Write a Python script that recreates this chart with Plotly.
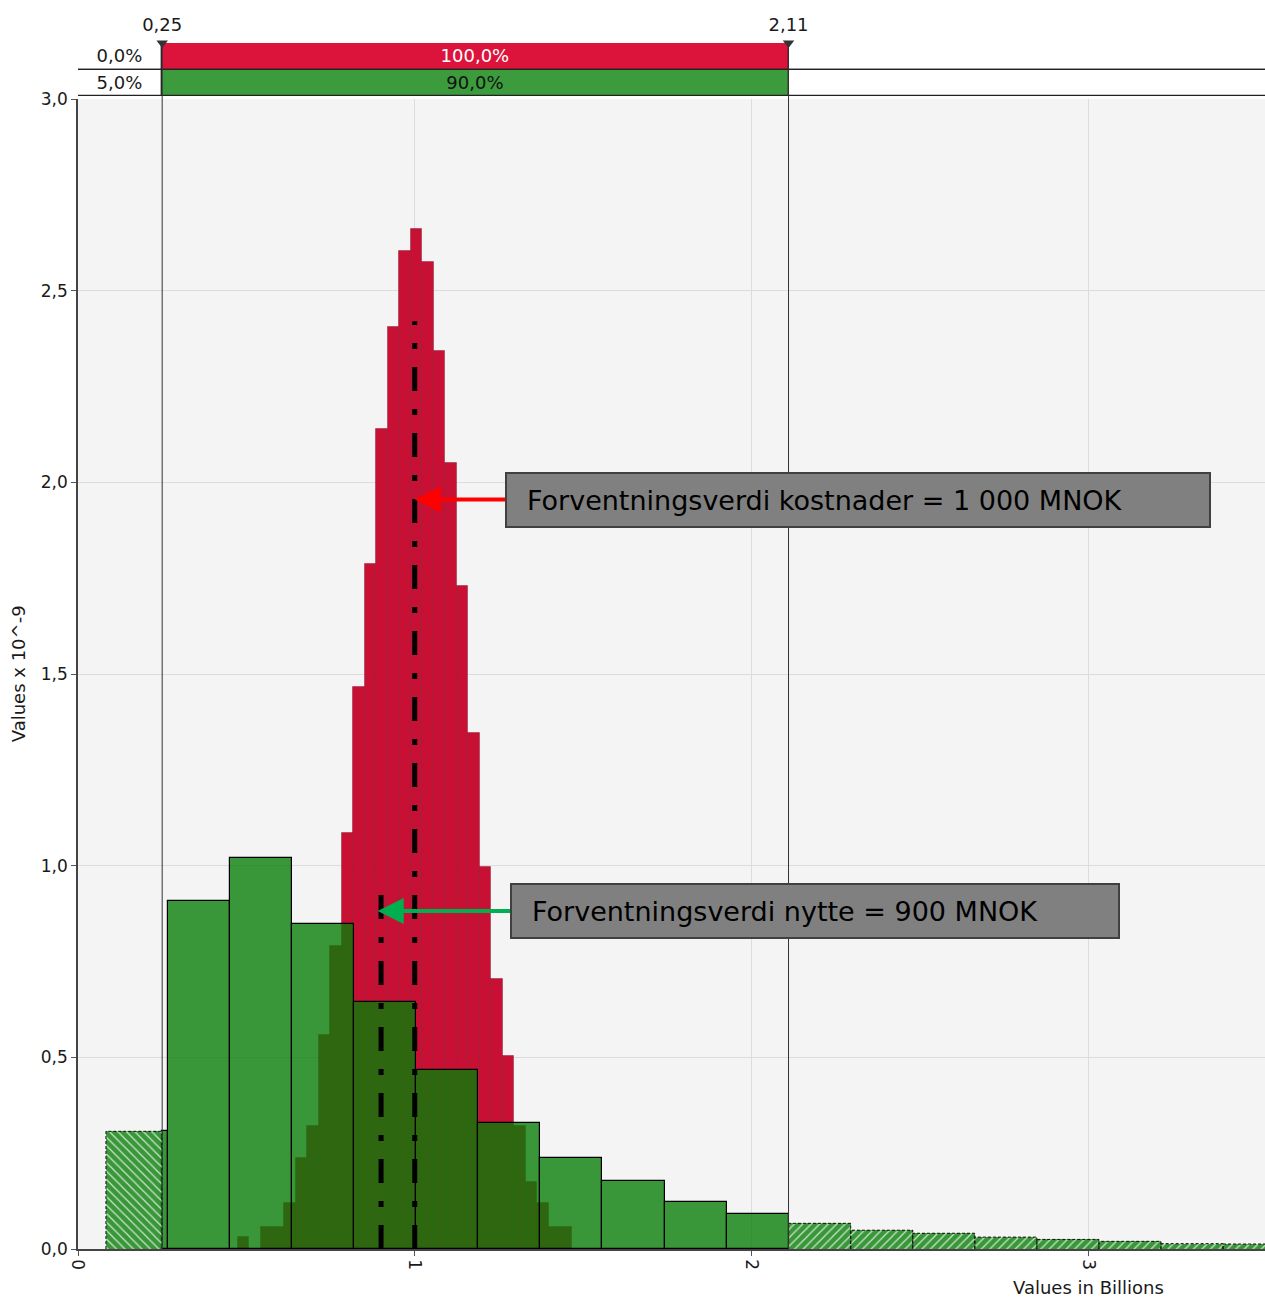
import numpy as np
import plotly.graph_objects as go

# ---------------- data ----------------
red_bin_start = 0.475
red_bin_width = 0.0342
red_density = [0.031, 0.0, 0.058, 0.058, 0.12, 0.237, 0.32, 0.558, 0.79, 1.085,
               1.466, 1.787, 2.14, 2.405, 2.604, 2.662, 2.576, 2.343, 2.051, 1.730,
               1.346, 0.997, 0.704, 0.504, 0.32, 0.175, 0.12, 0.058, 0.058]

green_bin_start = 0.083
green_bin_width = 0.1843
green_density = [0.307, 0.907, 1.019, 0.848, 0.644, 0.467, 0.330, 0.238, 0.177,
                 0.122, 0.091, 0.067, 0.049, 0.041, 0.031, 0.025, 0.020, 0.014, 0.013]

delimiters = [0.25, 2.11]
red_band_pct = [0.0, 100.0, 0.0]
green_band_pct = [5.0, 90.0, 5.0]

red_mean = 1.0
red_mean_line_top = 2.42
green_mean = 0.9
green_mean_line_top = 0.935

cost_label = "Forventningsverdi kostnader = 1 000 MNOK"
benefit_label = "Forventningsverdi nytte = 900 MNOK"
x_title = "Values in Billions"
y_title = "Values x 10^-9"
x_ticks = [0, 1, 2, 3]
y_ticks = [0.0, 0.5, 1.0, 1.5, 2.0, 2.5, 3.0]

# ---------------- styling ----------------
X_MAX = 3.525
FONT = "DejaVu Sans"
RED = "rgb(200,16,52)"
GREEN = "rgba(6,125,6,0.79)"
BAND_RED = "#DC143C"
BAND_GREEN = "#3C9B3C"
TXT = "#1a1a1a"
PAD = "\u00a0\u2009"

fig = go.Figure()

# red histogram
red_h = np.array(red_density)
red_left = red_bin_start + red_bin_width * np.arange(len(red_h))
fig.add_trace(go.Bar(
    x=red_left + red_bin_width / 2, y=red_h, width=red_bin_width,
    marker=dict(color=RED, line=dict(color="rgba(110,0,20,0.35)", width=1)),
    hoverinfo="skip", showlegend=False))

# green histogram, split at delimiters into solid / hatched parts
g_h = np.array(green_density)
g_left = green_bin_start + green_bin_width * np.arange(len(g_h))
g_right = g_left + green_bin_width
lo, hi = delimiters
solid = dict(x=[], w=[], y=[])
hatch_l = dict(x=[], w=[], y=[])
hatch_r = dict(x=[], w=[], y=[])
for L, R, h in zip(g_left, g_right, g_h):
    for a, b, tgt in ((L, min(R, lo), hatch_l), (max(L, lo), min(R, hi), solid),
                      (max(L, hi), R, hatch_r)):
        if b - a > 1e-3:
            tgt["x"].append((a + b) / 2)
            tgt["w"].append(b - a)
            tgt["y"].append(h)

fig.add_trace(go.Bar(
    x=solid["x"], y=solid["y"], width=solid["w"],
    marker=dict(color=GREEN, line=dict(color="black", width=1.2)),
    hoverinfo="skip", showlegend=False))

for part, shape in ((hatch_l, "\\"), (hatch_r, "/")):
    fig.add_trace(go.Bar(
        x=part["x"], y=part["y"], width=part["w"],
        marker=dict(color=GREEN, line=dict(width=0),
                    pattern=dict(shape=shape, fgcolor="white", fgopacity=0.75,
                                 size=6, solidity=0.2, fillmode="overlay")),
        hoverinfo="skip", showlegend=False))
    ox, oy = [], []
    for cx, w, h in zip(part["x"], part["w"], part["y"]):
        ox += [cx - w / 2, cx - w / 2, cx + w / 2, cx + w / 2, None]
        oy += [0, h, h, 0, None]
    fig.add_trace(go.Scatter(x=ox, y=oy, mode="lines",
                             line=dict(color="#111", width=1, dash="3px,2px"),
                             hoverinfo="skip", showlegend=False))

# mean lines
for m, top in ((red_mean, red_mean_line_top), (green_mean, green_mean_line_top)):
    fig.add_trace(go.Scatter(x=[m, m], y=[0, top], mode="lines",
                             line=dict(color="black", width=5, dash="24px,18px,6px,18px"),
                             hoverinfo="skip", showlegend=False))

# top delimiter band (yaxis2)
def pct(v):
    return f"{v:.1f}%".replace(".", ",")

band_base = [0, lo, hi]
band_len = [lo, hi - lo, 6.0 - hi]
for yrow, vals, col, tcol in ((1.5, red_band_pct, BAND_RED, "white"),
                              (0.5, green_band_pct, BAND_GREEN, "#111")):
    fig.add_trace(go.Bar(
        x=band_len, base=band_base, y=[yrow] * 3, orientation="h", width=1,
        xaxis="x", yaxis="y2",
        marker=dict(color=["white", col, "white"], line=dict(color="#222", width=1.2)),
        text=[pct(v) for v in vals], textposition=["inside", "inside", "none"],
        insidetextanchor="middle", constraintext="none", textangle=0,
        textfont=dict(family=FONT, size=18, color=[TXT, tcol, TXT]),
        hoverinfo="skip", showlegend=False))

fig.add_trace(go.Scatter(
    x=delimiters, y=[2, 2], xaxis="x", yaxis="y2", mode="markers+text",
    marker=dict(symbol="triangle-down", size=10, color="#333"),
    text=[f"{d:.2f}".replace(".", ",") for d in delimiters],
    textposition="top center", textfont=dict(family=FONT, size=18, color=TXT),
    cliponaxis=False, hoverinfo="skip", showlegend=False))

# delimiter vertical lines
for d in delimiters:
    fig.add_shape(type="line", xref="x", yref="paper", x0=d, x1=d, y0=0, y1=1,
                  line=dict(color="#333", width=1), layer="above")

# annotations with arrows
fig.add_annotation(
    x=red_mean, y=1.955, ax=1.268, ay=1.955, xref="x", yref="y", axref="x", ayref="y",
    xanchor="left", yanchor="middle", text=PAD + cost_label, align="left",
    width=690, height=40, borderpad=6, bgcolor="#808080", bordercolor="#404040",
    borderwidth=2, font=dict(family=FONT, size=27, color="black"),
    showarrow=True, arrowhead=2, arrowsize=1.3, arrowwidth=4, arrowcolor="#FF0000",
    standoff=0)
fig.add_annotation(
    x=green_mean - 0.01, y=0.882, ax=1.283, ay=0.882, xref="x", yref="y", axref="x",
    ayref="y", xanchor="left", yanchor="middle", text=PAD + benefit_label,
    align="left", width=594, height=40, borderpad=6, bgcolor="#808080",
    bordercolor="#404040", borderwidth=2, font=dict(family=FONT, size=27, color="black"),
    showarrow=True, arrowhead=2, arrowsize=1.3, arrowwidth=4, arrowcolor="#00B050",
    standoff=0)

# axis titles
fig.add_annotation(text=y_title, xref="paper", yref="paper", x=0, y=0.477,
                   xshift=-72, textangle=-90, showarrow=False,
                   font=dict(family=FONT, size=18, color=TXT))
fig.add_annotation(text=x_title, xref="x", yref="paper", x=3.0, y=0, yshift=-51,
                   showarrow=False, font=dict(family=FONT, size=18, color=TXT))

main_top = (1249 - 99) / 1206
band_bot = (1249 - 96) / 1206

fig.update_layout(
    width=1265, height=1299,
    margin=dict(l=78, r=0, t=43, b=50),
    paper_bgcolor="white", plot_bgcolor="#F4F4F4",
    barmode="overlay", bargap=0, separators=", ",
    font=dict(family=FONT, size=17, color=TXT),
    xaxis=dict(range=[0, X_MAX], tickvals=x_ticks, tickangle=90, ticks="outside",
               ticklen=5, tickcolor="#555", showgrid=True, gridcolor="#DCDCDC",
               zeroline=False, showline=True, linecolor="#444", linewidth=1.5,
               tickfont=dict(family=FONT, size=17, color=TXT)),
    yaxis=dict(domain=[0, main_top], range=[0, 3.0], tickvals=y_ticks,
               tickformat=".1f", ticks="outside", ticklen=5, tickcolor="#555",
               showgrid=True, gridcolor="#DCDCDC", zeroline=False, showline=True,
               linecolor="#444", linewidth=1.5,
               tickfont=dict(family=FONT, size=17, color=TXT)),
    yaxis2=dict(domain=[band_bot, 1], range=[0, 2], showticklabels=False,
                showgrid=False, zeroline=False, showline=False, fixedrange=True),
)

fig.write_html("out.html",
               config={"displayModeBar": False},
               post_script="document.body.style.margin='0px';"
                           "document.body.style.overflow='hidden';")
